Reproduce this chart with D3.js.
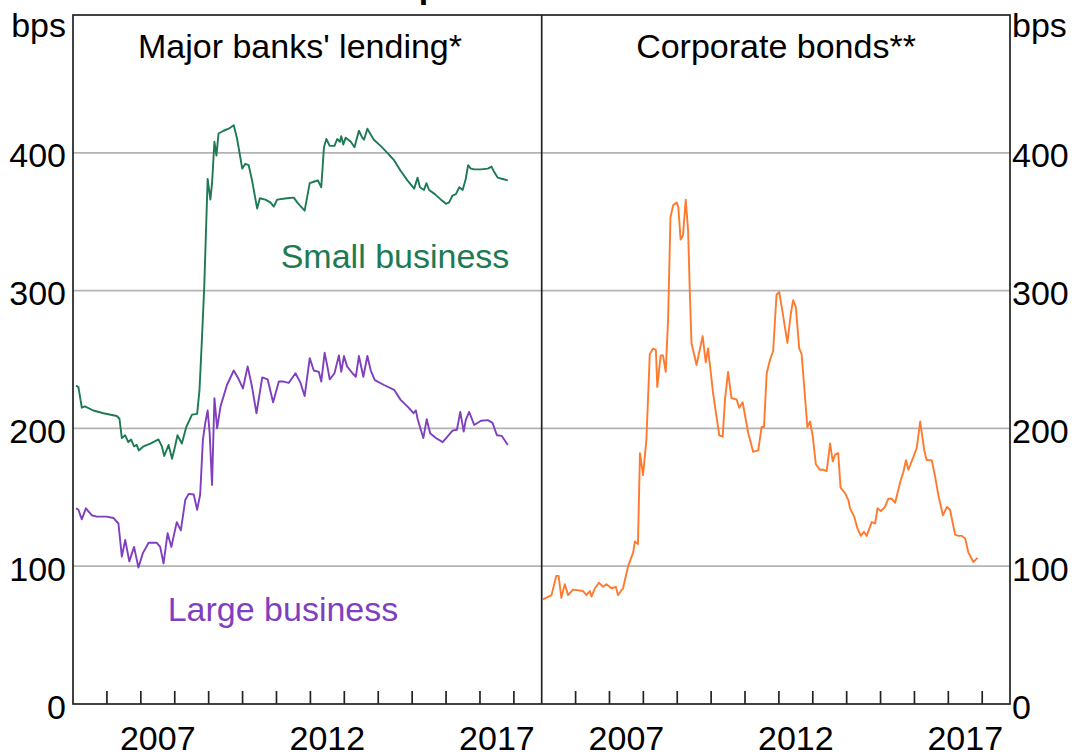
<!DOCTYPE html>
<html><head><meta charset="utf-8">
<script src="https://cdn.jsdelivr.net/npm/d3@7"></script>
<style>
html,body{margin:0;padding:0;background:#fff;}
svg{display:block;font-family:"Liberation Sans",Arial,sans-serif;}
</style></head>
<body>
<svg id="chart" width="1076" height="756"></svg>
<script>
// ---- data ----
const panelTitles = ["Major banks' lending*", "Corporate bonds**"];
const seriesLabels = ["Small business", "Large business"];
const yTicks = [0, 100, 200, 300, 400];
const yDomain = [0, 500];
const xDomain = [2005, 2018.82];
const yearTicks = [2006,2007,2008,2009,2010,2011,2012,2013,2014,2015,2016,2017,2018];
const xLabelYears = [2007, 2012, 2017];

const smallDates = [2005.09,2005.16,2005.26,2005.35,2005.60,2005.90,2006.29,2006.37,2006.44,2006.54,2006.63,2006.71,2006.80,2006.88,2006.94,2007.08,2007.28,2007.52,2007.62,2007.69,2007.82,2007.92,2008.01,2008.08,2008.21,2008.34,2008.51,2008.66,2008.73,2008.80,2008.87,2008.97,2009.05,2009.10,2009.17,2009.23,2009.29,2009.44,2009.59,2009.74,2009.84,2009.99,2010.08,2010.18,2010.28,2010.43,2010.51,2010.67,2010.82,2010.92,2011.02,2011.31,2011.51,2011.61,2011.83,2011.98,2012.10,2012.22,2012.32,2012.40,2012.47,2012.57,2012.71,2012.79,2012.87,2012.91,2012.97,2013.04,2013.19,2013.30,2013.43,2013.53,2013.58,2013.68,2013.76,2013.87,2014.07,2014.27,2014.47,2014.66,2014.86,2015.06,2015.16,2015.23,2015.35,2015.42,2015.50,2015.67,2015.85,2016.00,2016.09,2016.19,2016.29,2016.39,2016.49,2016.58,2016.65,2016.73,2016.83,2017.03,2017.23,2017.34,2017.42,2017.52,2017.67,2017.82];
const smallValues = [231,230,215,216,213,211,209,207,193,195,190,192,187,188,184,187,189,192,187,180,188,178,187,195,189,201,210,210.5,228,264,303,381,366,378,408,398,414,416,417.5,420,410,388.5,392,391,380,359.5,367,366,364,361,366,367,367.5,364,358,378,379,380,375,404,410,405,405,410,408,412,406,411,408,404,416,411,409.5,417.5,414,409.5,405,400,394.5,387,380,374,382,375,373,378,373,370,366,363,364,369,370,375,373,381,391,388.5,388,388,388.5,390,386,382,381,380];

const largeDates = [2005.09,2005.16,2005.26,2005.38,2005.55,2005.70,2005.99,2006.19,2006.34,2006.44,2006.54,2006.66,2006.80,2006.93,2007.06,2007.23,2007.47,2007.57,2007.67,2007.79,2007.90,2008.06,2008.18,2008.31,2008.41,2008.56,2008.66,2008.75,2008.83,2008.90,2008.97,2009.03,2009.10,2009.17,2009.25,2009.35,2009.54,2009.74,2009.88,2010.01,2010.15,2010.28,2010.41,2010.58,2010.74,2010.90,2011.07,2011.21,2011.36,2011.56,2011.71,2011.83,2011.98,2012.10,2012.25,2012.32,2012.42,2012.50,2012.57,2012.71,2012.84,2012.91,2012.99,2013.08,2013.24,2013.34,2013.43,2013.56,2013.68,2013.78,2013.90,2014.17,2014.47,2014.66,2014.86,2015.04,2015.11,2015.16,2015.23,2015.33,2015.43,2015.53,2015.70,2015.90,2016.04,2016.19,2016.32,2016.42,2016.52,2016.58,2016.68,2016.83,2017.03,2017.23,2017.37,2017.50,2017.64,2017.82];
const largeValues = [142,141,134,142,137,136,136,135,131,107,119,103.5,114,99,109.5,117,117,114,102,124,114,132,126,148,152.5,152,141,152,191.7,204,213,196.5,159,222,200,216,231.5,242,236,229,245,230,211,237,235.5,219,234,234,233,240,233,223.5,251,242,241,234,255,245,235.6,240,253,241,252.5,245,240,237.5,252.5,237.5,252.5,242,235,231.5,228,220.7,216,211,213,207,201,193,206.7,196.5,193,190,194,198.4,199,212,197.7,206,212,202.5,205.6,206,204,195,194.6,188];

const bondDates = [2005.04,2005.29,2005.43,2005.50,2005.58,2005.68,2005.78,2005.92,2006.22,2006.32,2006.42,2006.47,2006.57,2006.69,2006.81,2006.91,2007.06,2007.19,2007.25,2007.40,2007.55,2007.70,2007.75,2007.84,2007.90,2007.99,2008.09,2008.19,2008.29,2008.37,2008.41,2008.51,2008.58,2008.66,2008.73,2008.80,2008.88,2008.98,2009.03,2009.10,2009.17,2009.25,2009.32,2009.37,2009.42,2009.57,2009.75,2009.84,2009.91,2010.06,2010.24,2010.34,2010.41,2010.50,2010.60,2010.75,2010.83,2010.93,2011.09,2011.24,2011.39,2011.49,2011.56,2011.64,2011.74,2011.83,2011.93,2012.01,2012.13,2012.25,2012.35,2012.42,2012.50,2012.60,2012.67,2012.77,2012.84,2012.92,2013.00,2013.09,2013.21,2013.31,2013.41,2013.51,2013.59,2013.66,2013.75,2013.82,2013.95,2014.05,2014.10,2014.22,2014.31,2014.42,2014.51,2014.59,2014.74,2014.84,2014.91,2015.01,2015.13,2015.23,2015.33,2015.43,2015.58,2015.67,2015.75,2015.82,2015.95,2016.07,2016.17,2016.29,2016.36,2016.51,2016.61,2016.71,2016.84,2016.96,2017.05,2017.20,2017.30,2017.40,2017.50,2017.59,2017.74,2017.86];
const bondValues = [76,79,93,93,77,87,79,83,82,79,82,78,84,88,85,87,84,85,79,84,100,110,118,116,182,166,192,254,258,257,230,253,253,241,279,353,362,364,361,337,340,366,344,300,262,246,267,248,258,225,195,194,221,241,222,221,215,219,197,183,184,201,201,240,250,256,297,299,281,262,283,293,288,258,254,223,201,205,194,174,170,170,169,189,176,181,182,157,153,148,142,136,128,122,125,122,132,131,142,140,143,149,149,146,161,168,177,170,178,186,205,184,177,177,165,151,137,143,141,123,122,122,120,110,103,106];

// ---- layout ----
const svg = d3.select("#chart");
const FS = 34;
const plotTop = 15, plotBottom = 704;
const leftL = 73, divX = 541.7, rightR = 1010;
const y = d3.scaleLinear().domain(yDomain).range([plotBottom, plotTop]);
const xL = d3.scaleLinear().domain(xDomain).range([leftL, divX]);
const xR = d3.scaleLinear().domain(xDomain).range([divX, rightR]);

const green = "#1d7a52", purple = "#7f3fbf", orange = "#ff7a2e";
const LW = 1.9;

// partial title (cut off at top)
svg.append("text").attr("x", 396).attr("y", -2).attr("font-size", FS).attr("font-weight", "bold")
   .attr("fill", "#000").text("Spreads");

// gridlines
svg.append("g").selectAll("line").data(yTicks.filter(d => d > 0)).join("line")
  .attr("x1", leftL).attr("x2", rightR).attr("y1", d => y(d)).attr("y2", d => y(d))
  .attr("stroke", "#b3b3b3").attr("stroke-width", 1.7);

// lines
const mkLine = (xs) => d3.line().x(d => xs(d[0])).y(d => y(d[1]));
const pairs = (ds, vs) => ds.map((d, i) => [d, vs[i]]);
svg.append("path").datum(pairs(smallDates, smallValues)).attr("d", mkLine(xL))
  .attr("fill", "none").attr("stroke", green).attr("stroke-width", LW).attr("stroke-linejoin", "round");
svg.append("path").datum(pairs(largeDates, largeValues)).attr("d", mkLine(xL))
  .attr("fill", "none").attr("stroke", purple).attr("stroke-width", LW).attr("stroke-linejoin", "round");
svg.append("path").datum(pairs(bondDates, bondValues)).attr("d", mkLine(xR))
  .attr("fill", "none").attr("stroke", orange).attr("stroke-width", LW).attr("stroke-linejoin", "round");

// frame
const frame = svg.append("g").attr("stroke", "#222").attr("stroke-width", 1.7).attr("fill", "none");
frame.append("rect").attr("x", leftL).attr("y", plotTop).attr("width", rightR - leftL).attr("height", plotBottom - plotTop);
frame.append("line").attr("x1", divX).attr("x2", divX).attr("y1", plotTop).attr("y2", plotBottom);

// x ticks (inside, upward)
[xL, xR].forEach(xs => {
  svg.append("g").selectAll("line").data(yearTicks).join("line")
    .attr("x1", d => xs(d)).attr("x2", d => xs(d)).attr("y1", plotBottom).attr("y2", plotBottom - 13)
    .attr("stroke", "#222").attr("stroke-width", 1.7);
  svg.append("g").selectAll("text").data(xLabelYears).join("text")
    .attr("x", d => xs(d + 0.5)).attr("y", 750).attr("text-anchor", "middle")
    .attr("font-size", FS).attr("fill", "#000").text(d => d);
});

// y labels
svg.append("g").selectAll("text").data(yTicks).join("text")
  .attr("x", 66).attr("y", d => y(d) + 14.5).attr("text-anchor", "end")
  .attr("font-size", FS).attr("fill", "#000").text(d => d);
svg.append("g").selectAll("text").data(yTicks).join("text")
  .attr("x", 1012).attr("y", d => y(d) + 14.5).attr("text-anchor", "start")
  .attr("font-size", FS).attr("fill", "#000").text(d => d);
svg.append("text").attr("x", 66).attr("y", 37).attr("text-anchor", "end").attr("font-size", FS).text("bps");
svg.append("text").attr("x", 1012).attr("y", 37).attr("text-anchor", "start").attr("font-size", FS).text("bps");

// panel titles
svg.append("text").attr("x", 300).attr("y", 58).attr("text-anchor", "middle").attr("font-size", FS).text(panelTitles[0]);
svg.append("text").attr("x", 776).attr("y", 58).attr("text-anchor", "middle").attr("font-size", FS).text(panelTitles[1]);

// series labels
svg.append("text").attr("x", 395).attr("y", 268).attr("text-anchor", "middle").attr("font-size", FS)
  .attr("fill", green).text(seriesLabels[0]);
svg.append("text").attr("x", 283).attr("y", 621).attr("text-anchor", "middle").attr("font-size", FS)
  .attr("fill", purple).text(seriesLabels[1]);
</script>
</body></html>
